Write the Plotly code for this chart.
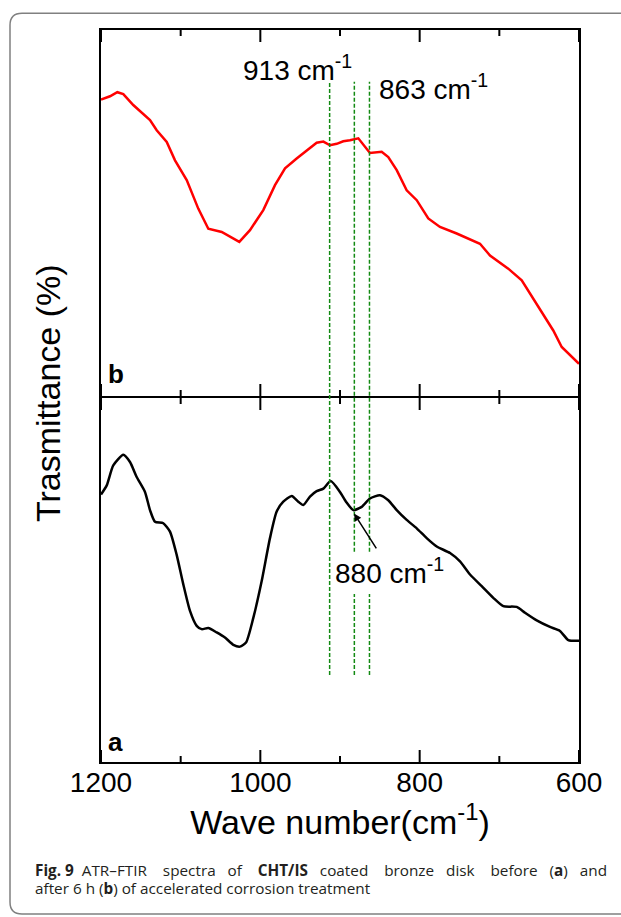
import plotly.graph_objects as go

# ---------------- data ----------------
wn_b = [1200, 1188.7, 1179.5, 1172.0, 1159.5, 1148.9, 1138.5, 1130.1, 1117.5, 1107.1,
        1092.4, 1077.9, 1065.3, 1048.5, 1038.1, 1026.4, 1013.0, 996.3, 981.6, 969.0,
        954.4, 937.7, 929.3, 920.9, 912.6, 904.1, 895.9, 887.5, 877.0, 862.4,
        847.7, 839.4, 828.8, 816.3, 803.7, 789.2, 774.5, 753.5, 724.3, 711.7,
        688.8, 671.9, 661.5, 642.7, 632.3, 621.7, 611.3, 600]
t_b = [81.0, 81.9, 83.0, 82.5, 79.5, 77.4, 75.4, 72.6, 69.4, 64.4,
       59.0, 51.2, 45.7, 44.8, 43.6, 42.1, 45.3, 50.8, 57.6, 62.2,
       64.9, 67.6, 69.2, 69.5, 68.5, 68.9, 69.6, 69.9, 70.4, 66.4,
       66.7, 65.3, 61.7, 56.2, 53.5, 48.5, 46.2, 44.4, 41.6, 38.4,
       34.8, 31.6, 28.0, 21.6, 17.9, 13.4, 11.1, 8.8]

wn_a = [1200, 1192.8, 1184.6, 1172.0, 1163.6, 1155.2, 1144.8, 1138.5, 1132.2, 1121.8,
        1113.4, 1105.0, 1096.7, 1088.3, 1079.9, 1073.6, 1065.3, 1054.8, 1044.4, 1033.9,
        1025.5, 1018.0, 1008.8, 998.3, 987.9, 979.5, 971.2, 960.6, 952.3, 946.1,
        937.7, 929.3, 920.9, 911.7, 900.0, 892.5, 883.3, 872.8, 862.4, 849.8,
        839.4, 828.8, 816.3, 803.7, 791.2, 778.6, 761.9, 749.4, 736.8, 722.1,
        707.6, 695.0, 678.2, 667.8, 653.1, 636.4, 623.9, 613.4, 600]
t_a = [73.5, 76.0, 81.5, 84.4, 82.4, 78.3, 74.2, 69.2, 66.0, 65.6,
       63.3, 56.9, 48.8, 41.5, 37.4, 36.5, 36.8, 35.6, 34.2, 32.2,
       31.7, 32.8, 39.6, 49.7, 61.5, 68.8, 71.5, 73.1, 71.5, 70.6,
       72.9, 74.4, 75.1, 77.2, 74.2, 71.5, 69.2, 70.1, 72.4, 73.3,
       71.9, 69.2, 66.5, 64.2, 61.5, 59.2, 57.4, 55.1, 51.5, 48.3,
       45.1, 42.8, 42.6, 41.0, 38.9, 37.1, 36.0, 33.5, 33.3]

peak_lines = [913, 882, 863]
major_ticks = [1200, 1000, 800, 600]
minor_ticks = [1100, 900, 700]

# ---------------- layout geometry ----------------
W, H = 621, 917
ML, MR, MT, MB = 101, 42, 30, 155
PW = W - ML - MR
PH = H - MT - MB


def pxx(px):
    return (px - ML) / PW


def pxy(py):
    return (H - MB - py) / PH


FONT = "Liberation Sans, Arial, sans-serif"

fig = go.Figure()
fig.add_trace(go.Scatter(x=wn_b, y=t_b, mode="lines", xaxis="x2", yaxis="y2",
                         line=dict(color="#ff0000", width=2.5), showlegend=False))
fig.add_trace(go.Scatter(x=wn_a, y=t_a, mode="lines", xaxis="x", yaxis="y",
                         line=dict(color="black", width=2.5, shape="spline", smoothing=0.6),
                         showlegend=False))

xcommon = dict(range=[1200, 600], tickmode="array", tickvals=major_ticks,
               ticktext=[str(v) for v in major_ticks], ticks="",
               showline=True, linewidth=2, linecolor="black", mirror=True,
               showgrid=False, zeroline=False)
ycommon = dict(showticklabels=False, ticks="", showline=True, linewidth=2, linecolor="black",
               mirror=True, showgrid=False, zeroline=False, range=[0, 100])

split = 0.5
fig.update_layout(
    width=W, height=H, autosize=False,
    margin=dict(l=ML, r=MR, t=MT, b=MB),
    paper_bgcolor="white", plot_bgcolor="rgba(0,0,0,0)",
    font=dict(family=FONT, color="black"),
    xaxis=dict(**xcommon, anchor="y", showticklabels=True,
               tickfont=dict(size=28, family=FONT), ticklabelstandoff=-6,
               title=dict(text="Wave number(cm<sup>-1</sup>)", font=dict(size=34, family=FONT), standoff=8)),
    yaxis=dict(**ycommon, domain=[0, split - 2.0 / PH], anchor="x"),
    xaxis2=dict(**xcommon, anchor="y2", showticklabels=False),
    yaxis2=dict(**ycommon, domain=[split, 1], anchor="x2"),
)

shapes = []
# inward tick marks on the bottom and top edge of each panel (on the panels' own scales)
for xr, yr in (("x", "y"), ("x2", "y2")):
    for yanc, d in ((0, 1), (100, -1)):
        for vals, ln in ((major_ticks, 12), (minor_ticks, 6)):
            for v in vals:
                shapes.append(dict(type="line", xref=xr, yref=yr, ysizemode="pixel",
                                   yanchor=yanc, x0=v, x1=v, y0=0, y1=d * ln,
                                   line=dict(color="black", width=2)))

# green dashed reference lines
gcol = "#138a13"
for i, w in enumerate(peak_lines):
    if i == 0:
        segs = [(pxy(675), pxy(81.7))]
    else:
        segs = [(pxy(675), pxy(594)), (pxy(551.7), pxy(81.7))]
    for y0, y1 in segs:
        shapes.append(dict(type="line", xref="x", yref="paper", x0=w, x1=w, y0=y0, y1=y1,
                           line=dict(color=gcol, width=1.5, dash="4px,2px")))

# rounded outer frame
L, T, R, B, r = 10, 13.3, 640, 914, 12
path = (f"M {pxx(L+r)},{pxy(T)} L {pxx(R-r)},{pxy(T)} Q {pxx(R)},{pxy(T)} {pxx(R)},{pxy(T+r)} "
        f"L {pxx(R)},{pxy(B-r)} Q {pxx(R)},{pxy(B)} {pxx(R-r)},{pxy(B)} "
        f"L {pxx(L+r)},{pxy(B)} Q {pxx(L)},{pxy(B)} {pxx(L)},{pxy(B-r)} "
        f"L {pxx(L)},{pxy(T+r)} Q {pxx(L)},{pxy(T)} {pxx(L+r)},{pxy(T)} Z")
shapes.append(dict(type="path", xref="paper", yref="paper", path=path,
                   fillcolor="rgba(0,0,0,0)", line=dict(color="#808080", width=1.5), layer="below"))
fig.update_layout(shapes=shapes)

ann = []
lab = dict(size=28, family=FONT, color="black")
ann.append(dict(x=1024.7, y=89.5, xref="x2", yref="y2", text="913 cm<sup>-1</sup>",
                showarrow=False, xanchor="left", yanchor="middle", font=lab))
ann.append(dict(x=853.6, y=84.5, xref="x2", yref="y2", text="863 cm<sup>-1</sup>",
                showarrow=False, xanchor="left", yanchor="middle", font=lab))
ann.append(dict(x=908.4, y=52.4, xref="x", yref="y", text="880 cm<sup>-1</sup>",
                showarrow=False, xanchor="left", yanchor="middle", font=lab))
ann.append(dict(x=882.4, y=68.3, xref="x", yref="y", ax=853.2, ay=58.3, axref="x", ayref="y",
                text="", showarrow=True, arrowhead=2, arrowsize=1, arrowwidth=1.5, arrowcolor="black"))
# panel labels
ann.append(dict(x=pxx(106), y=pxy(374), xref="paper", yref="paper", text="<b>b</b>",
                showarrow=False, xanchor="left", yanchor="middle",
                font=dict(size=26, family=FONT, color="black")))
ann.append(dict(x=pxx(106), y=pxy(742), xref="paper", yref="paper", text="<b>a</b>",
                showarrow=False, xanchor="left", yanchor="middle",
                font=dict(size=26, family=FONT, color="black")))
# y title
ann.append(dict(x=pxx(48), y=pxy(393), xref="paper", yref="paper", text="Trasmittance (%)",
                showarrow=False, textangle=-90, xanchor="center", yanchor="middle",
                font=dict(size=34, family=FONT, color="black")))
# caption (first line justified in the original -> widened word gaps)
cap = dict(size=15.3, family="Open Sans, Noto Sans, sans-serif", color="#231f20")
s3 = "\u00a0\u00a0\u00a0"
s4 = "\u00a0\u00a0\u00a0\u00a0"
line1 = ("<b>Fig.\u00a09</b>\u00a0\u00a0ATR\u2013FTIR" + s4 + "spectra" + s3 + "of" + s4 + "<b>CHT/IS</b>"
         + s3 + "coated" + s4 + "bronze" + s3 + "disk" + s4 + "before" + s3 + "(<b>a</b>)" + s3 + "and")
ann.append(dict(x=pxx(33), y=pxy(870), xref="paper", yref="paper", text=line1,
                showarrow=False, xanchor="left", yanchor="middle", font=cap))
ann.append(dict(x=pxx(33), y=pxy(888), xref="paper", yref="paper",
                text="after 6 h (<b>b</b>) of accelerated corrosion treatment",
                showarrow=False, xanchor="left", yanchor="middle", font=cap))
fig.update_layout(annotations=ann)

fig.write_html("out.html")
